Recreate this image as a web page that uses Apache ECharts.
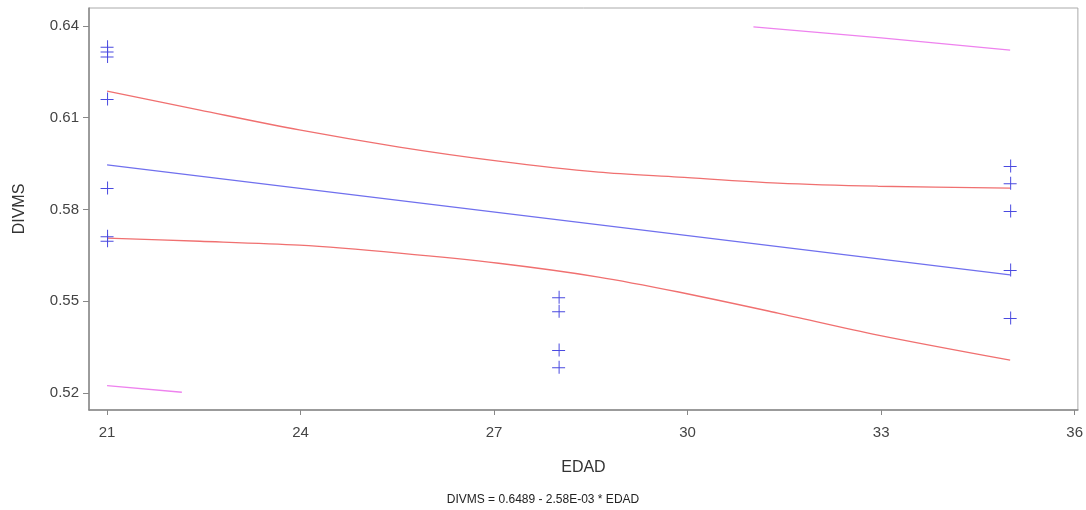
<!DOCTYPE html>
<html>
<head>
<meta charset="utf-8">
<script src="https://cdn.jsdelivr.net/npm/echarts@6/dist/echarts.min.js"></script>
<style>
  html, body { margin: 0; padding: 0; background: #fff; }
  #chart { width: 1086px; height: 510px; }
</style>
</head>
<body>
<div id="chart"></div>
<script>
// observed points (EDAD, DIVMS)
var obsX = [21, 21, 21, 21, 21, 21, 21, 28, 28, 28, 28, 35, 35, 35, 35, 35]
var obsY = [0.6332, 0.6317, 0.6300, 0.6161, 0.5870, 0.5712, 0.5698,
            0.5513, 0.5467, 0.5340, 0.5284,
            0.5942, 0.5886, 0.5795, 0.5602, 0.5445]

// fitted line
var fitX = [21, 35]
var fitY = [0.5946, 0.5586]

// confidence limits for mean
var clmX = [21, 22.44, 23.98, 25.53, 27.07, 28.62, 29.86, 31.40, 32.95, 35]
var clmUpper = [0.6187, 0.6125, 0.6060, 0.6004, 0.5958, 0.5922, 0.5906, 0.5886, 0.5876, 0.5870]
var clmLower = [0.5706, 0.5696, 0.5683, 0.5657, 0.5624, 0.5579, 0.5530, 0.5461, 0.5389, 0.5307]

// prediction limits (visible parts only)
var pUpX = [31.02, 33.0, 35]
var pUpY = [0.6397, 0.6361, 0.6321]
var pLoX = [21, 22.16]
var pLoY = [0.5224, 0.5202]

// tick labels
var xTicks = [21, 24, 27, 30, 33, 36]
var yTicks = [0.52, 0.55, 0.58, 0.61, 0.64]

function pairs (xs, ys) {
  return xs.map(function (x, i) { return [x, ys[i]] })
}

var plus = 'path://M0,6.5H13V7.5H0Z M6.5,0H7.5V13H6.5Z'
var font = 'Arial, Liberation Sans'

var option = {
  animation: false,
  backgroundColor: '#fff',
  title: {
    text: 'DIVMS = 0.6489 - 2.58E-03 * EDAD',
    left: 'center',
    top: 489,
    textStyle: { fontFamily: font, fontSize: 12, fontWeight: 'normal', color: '#222' }
  },
  grid: {
    left: 89, right: 5, top: 8, bottom: 100,
    show: true,
    borderColor: '#aaa',
    borderWidth: 1
  },
  xAxis: {
    type: 'value',
    min: 20.72,
    max: 36.05,
    name: 'EDAD',
    nameLocation: 'middle',
    nameGap: 50,
    nameTextStyle: { fontFamily: font, fontSize: 16, color: '#333' },
    splitLine: { show: false },
    axisLine: { lineStyle: { color: '#888', width: 1.5 } },
    axisTick: { customValues: xTicks, length: 5, lineStyle: { color: '#888' } },
    axisLabel: { customValues: xTicks, margin: 15, fontFamily: font, fontSize: 15, color: '#444' }
  },
  yAxis: {
    type: 'value',
    min: 0.5144,
    max: 0.6459,
    name: 'DIVMS',
    nameLocation: 'middle',
    nameGap: 61,
    nameRotate: 90,
    nameTextStyle: { fontFamily: font, fontSize: 16, color: '#333' },
    splitLine: { show: false },
    axisLine: { show: true, lineStyle: { color: '#888', width: 1.5 } },
    axisTick: { show: true, customValues: yTicks, length: 6, lineStyle: { color: '#888' } },
    axisLabel: {
      customValues: yTicks, margin: 10,
      fontFamily: font, fontSize: 15, color: '#444',
      formatter: function (v) { return v.toFixed(2) }
    }
  },
  series: [
    {
      type: 'line', data: pairs(clmX, clmUpper), smooth: 0.3, showSymbol: false,
      lineStyle: { color: '#f07070', width: 1.3 }
    },
    {
      type: 'line', data: pairs(clmX, clmLower), smooth: 0.3, showSymbol: false,
      lineStyle: { color: '#f07070', width: 1.3 }
    },
    {
      type: 'line', data: pairs(pUpX, pUpY), smooth: true, showSymbol: false,
      lineStyle: { color: '#ee82ee', width: 1.3 }
    },
    {
      type: 'line', data: pairs(pLoX, pLoY), showSymbol: false,
      lineStyle: { color: '#ee82ee', width: 1.3 }
    },
    {
      type: 'line', data: pairs(fitX, fitY), showSymbol: false,
      lineStyle: { color: '#7070ee', width: 1.3 }
    },
    {
      type: 'scatter', data: pairs(obsX, obsY),
      symbol: plus, symbolSize: 13,
      itemStyle: { color: '#4a4ae0', opacity: 1 },
      z: 5
    }
  ]
}

var myChart = echarts.init(document.getElementById('chart'))
myChart.setOption(option)
</script>
</body>
</html>
